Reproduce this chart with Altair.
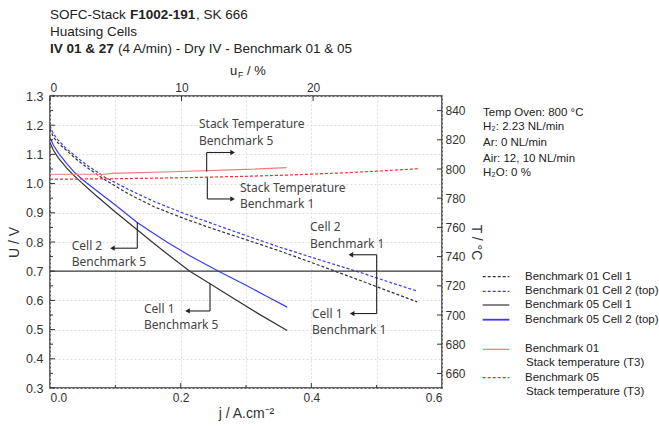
import altair as alt
import pandas as pd

# ---------------- data ----------------
# Benchmark 05 (solid), current density j in A/cm2, cell voltage U in V
j_b05_cell1 = [0, 0.005, 0.0127, 0.025, 0.036, 0.05, 0.069, 0.1, 0.133, 0.153, 0.18, 0.214, 0.245, 0.28, 0.32, 0.363]
u_b05_cell1 = [1.140, 1.115, 1.088, 1.055, 1.029, 1.000, 0.962, 0.903, 0.843, 0.806, 0.758, 0.700, 0.657, 0.608, 0.553, 0.497]
j_b05_cell2 = [0, 0.005, 0.0127, 0.025, 0.036, 0.05, 0.069, 0.1, 0.133, 0.153, 0.18, 0.214, 0.258, 0.3, 0.33, 0.363]
u_b05_cell2 = [1.158, 1.132, 1.105, 1.070, 1.042, 1.013, 0.980, 0.927, 0.868, 0.838, 0.798, 0.753, 0.700, 0.652, 0.616, 0.577]
# Benchmark 01 (dashed)
j_b01 = [0, 0.005, 0.012, 0.023, 0.043, 0.06, 0.084, 0.12, 0.16, 0.207, 0.25, 0.3, 0.352, 0.4, 0.44, 0.48, 0.52, 0.562]
u_b01_cell1 = [1.188, 1.160, 1.140, 1.118, 1.078, 1.050, 1.013, 0.965, 0.920, 0.879, 0.845, 0.808, 0.769, 0.730, 0.697, 0.664, 0.630, 0.595]
u_b01_cell2 = [1.198, 1.172, 1.150, 1.124, 1.086, 1.058, 1.022, 0.980, 0.938, 0.896, 0.862, 0.822, 0.782, 0.748, 0.720, 0.692, 0.662, 0.632]
# Stack temperatures (right axis, deg C)
j_temp_solid = [0, 0.085, 0.095, 0.2, 0.3, 0.362]
t_temp_solid = [796.4, 796.4, 797.0, 798.3, 799.7, 800.9]
j_temp_dashed = [0, 0.1, 0.2, 0.3, 0.375, 0.45, 0.5, 0.564]
t_temp_dashed = [793.0, 793.3, 794.0, 795.0, 796.0, 797.4, 798.5, 800.2]
# reference line and ticks
hline_u = [0.7]
u_ticks = [0.3, 0.4, 0.5, 0.6, 0.7, 0.8, 0.9, 1.0, 1.1, 1.2, 1.3]
u_minor = [0.35, 0.45, 0.55, 0.65, 0.75, 0.85, 0.95, 1.05, 1.15, 1.25]
j_ticks = [0.0, 0.1, 0.2, 0.3, 0.4, 0.5, 0.6]
j_major = [0.2, 0.4]
j_minor = [0.1, 0.3, 0.5]
t_ticks = [660, 680, 700, 720, 740, 760, 780, 800, 820, 840]
uf_ticks = [0, 10, 20]

FONT = "Liberation Sans"
NFONT = "Noto Sans"
TXT = "#333333"
W, H = 392, 292

xs = alt.Scale(domain=[0, 0.6], nice=False, zero=False)
ys = alt.Scale(domain=[0.3, 1.3], nice=False, zero=False)
ts = alt.Scale(domain=[650, 850], nice=False, zero=False)
us = alt.Scale(domain=[0, 29.8], nice=False, zero=False)

BLACK = "#333333"
BLUE = "#3a3af0"
RED_S = "#f07a7a"
RED_D = "#ff2a2a"
DASH = [3, 2]

one = pd.DataFrame({"a": [0]})


def X(field="j"):
    return alt.X(f"{field}:Q", scale=xs, axis=None)


def Y(field="U"):
    return alt.Y(f"{field}:Q", scale=ys, axis=None)


def uline(j, u, color, dash=None, axes=False):
    df = pd.DataFrame({"j": j, "U": u})
    kw = dict(color=color, strokeWidth=1.2, clip=True)
    if dash:
        kw["strokeDash"] = dash
    if axes:
        xa = alt.Axis(values=j_ticks, grid=True, gridColor="#d6d6d6", gridDash=[2, 2], gridWidth=0.8,
                      labelExpr="round(datum.value*10)%2==0 ? format(datum.value,'.1f') : ''",
                      domain=False, ticks=False, labelFont=FONT, labelFontSize=12, labelColor=TXT,
                      labelPadding=4, title="j / A.cm\u207b\u00b2", titleFont=FONT, titleFontSize=14,
                      titleFontWeight="normal", titleColor=TXT, titlePadding=3)
        ya = alt.Axis(values=u_ticks, format=".1f", grid=True, gridColor="#d6d6d6", gridDash=[2, 2],
                      gridWidth=0.8, domain=False, ticks=False, labelFont=FONT, labelFontSize=12.5,
                      labelColor=TXT, labelPadding=7, title="U / V", titleFont=FONT, titleFontSize=14,
                      titleFontWeight="normal", titleColor=TXT, titlePadding=4)
        return alt.Chart(df).mark_line(**kw).encode(
            x=alt.X("j:Q", scale=xs, axis=xa), y=alt.Y("U:Q", scale=ys, axis=ya))
    return alt.Chart(df).mark_line(**kw).encode(x=X(), y=Y())


def tline(j, t, color, dash=None, axes=False):
    df = pd.DataFrame({"j": j, "T": t})
    kw = dict(color=color, strokeWidth=1.2, clip=True)
    if dash:
        kw["strokeDash"] = dash
    ya = None
    if axes:
        ya = alt.Axis(orient="right", values=t_ticks, grid=False, domain=False, ticks=False,
                      labelFont=FONT, labelFontSize=12, labelColor=TXT, labelPadding=3,
                      title="T / \u00b0C", titleFont=FONT, titleFontSize=14, titleFontWeight="normal",
                      titleColor=TXT, titlePadding=3)
    return alt.Chart(df).mark_line(**kw).encode(x=X(), y=alt.Y("T:Q", scale=ts, axis=ya))


def note(text, j, u):
    return alt.Chart(pd.DataFrame({"j": [j], "U": [u]})).mark_text(
        text=text, font=NFONT, fontSize=12, color="#444444", align="left", baseline="middle"
    ).encode(x=X(), y=Y())


def seg(j1, j2, u1, u2):
    df = pd.DataFrame({"j": [j1], "j2": [j2], "U": [u1], "U2": [u2]})
    return alt.Chart(df).mark_rule(color="#222222", strokeWidth=1.1).encode(
        x=X(), x2="j2:Q", y=Y(), y2="U2:Q")


def head(j, u, shape):
    return alt.Chart(pd.DataFrame({"j": [j], "U": [u]})).mark_point(
        shape=shape, filled=True, size=28, color="#222222", opacity=1).encode(x=X(), y=Y())


def ptext(text, x, y, size=13.5, bold=False, color="#222222", font=FONT):
    return alt.Chart(one).mark_text(text=text, font=font, fontSize=size,
                                    fontWeight="bold" if bold else "normal", color=color,
                                    align="left", baseline="middle").encode(
        x=alt.value(x), y=alt.value(y))


def prule(x1, x2, y, color, dash=None, width=1.2):
    kw = dict(color=color, strokeWidth=width)
    if dash:
        kw["strokeDash"] = dash
    return alt.Chart(one).mark_rule(**kw).encode(x=alt.value(x1), x2=alt.value(x2), y=alt.value(y))


# ---------------- layers ----------------
hline = alt.Chart(pd.DataFrame({"U": hline_u})).mark_rule(color="#3a3a3a", strokeWidth=1.2).encode(y=Y())

left_major = alt.Chart(pd.DataFrame({"U": u_ticks})).mark_rule(color=BLACK, strokeWidth=1).encode(
    y=Y(), x=alt.value(0), x2=alt.value(5))
left_minor = alt.Chart(pd.DataFrame({"U": u_minor})).mark_rule(color=BLACK, strokeWidth=1).encode(
    y=Y(), x=alt.value(0), x2=alt.value(3))
bot_major = alt.Chart(pd.DataFrame({"j": j_major})).mark_rule(color=BLACK, strokeWidth=1).encode(
    x=X(), y=alt.value(H), y2=alt.value(H - 5))
bot_minor = alt.Chart(pd.DataFrame({"j": j_minor})).mark_rule(color=BLACK, strokeWidth=1).encode(
    x=X(), y=alt.value(H), y2=alt.value(H - 3))
right_ticks = alt.Chart(pd.DataFrame({"T": t_ticks})).mark_rule(color=BLACK, strokeWidth=1).encode(
    y=alt.Y("T:Q", scale=ts, axis=None), x=alt.value(W), x2=alt.value(W - 5))
top = alt.Chart(pd.DataFrame({"uF": uf_ticks})).mark_rule(color=BLACK, strokeWidth=1).encode(
    x=alt.X("uF:Q", scale=us,
            axis=alt.Axis(orient="top", values=uf_ticks, grid=False, domain=False, ticks=False,
                          labelFont=FONT, labelFontSize=12, labelColor=TXT, labelPadding=2, title=None)),
    y=alt.value(0), y2=alt.value(5))

annotations = [
    # Stack Temperature Benchmark 5
    note("Stack Temperature", 0.228, 1.203), note("Benchmark 5", 0.228, 1.146),
    seg(0.2398, 0.2398, 1.1065, 1.0416), seg(0.2398, 0.279, 1.1065, 1.1065), head(0.2795, 1.1065, "triangle-right"),
    # Stack Temperature Benchmark 1
    note("Stack Temperature", 0.2908, 0.9836), note("Benchmark 1", 0.2908, 0.9304),
    seg(0.2408, 0.2408, 1.0212, 0.9474), seg(0.2408, 0.279, 0.9474, 0.9474), head(0.2795, 0.9474, "triangle-right"),
    # Cell 2 / Cell 1 Benchmark 1
    note("Cell 2", 0.398, 0.8505), note("Benchmark 1", 0.398, 0.7939),
    note("Cell 1", 0.401, 0.555), note("Benchmark 1", 0.401, 0.5003),
    seg(0.5, 0.5, 0.7563, 0.555), seg(0.461, 0.5, 0.7563, 0.7563), seg(0.463, 0.5, 0.555, 0.555),
    head(0.4605, 0.7563, "triangle-left"), head(0.4625, 0.555, "triangle-left"),
    # Cell 2 Benchmark 5
    note("Cell 2", 0.0332, 0.7857), note("Benchmark 5", 0.0332, 0.731),
    seg(0.1336, 0.1336, 0.8676, 0.7788), seg(0.096, 0.1336, 0.7788, 0.7788), head(0.0955, 0.7788, "triangle-left"),
    # Cell 1 Benchmark 5
    note("Cell 1", 0.1439, 0.572), note("Benchmark 5", 0.1439, 0.5174),
    seg(0.2449, 0.2449, 0.6573, 0.5638), seg(0.211, 0.2449, 0.5638, 0.5638), head(0.2105, 0.5638, "triangle-left"),
]

# title, info and legend decorations (pixel positions relative to the plot area)
decor = [
    ptext("SOFC-Stack", 0, -81), ptext("F1002-191", 80, -81, bold=True), ptext(", SK 666", 146, -81),
    ptext("Huatsing Cells", 0, -64),
    ptext("IV 01 & 27", 0, -47, bold=True), ptext("(4 A/min) - Dry IV - Benchmark 01 & 05", 68, -47),
    ptext("u", 180, -25, size=13), ptext("F", 188, -21, size=8.5), ptext("/ %", 197, -25, size=13),
    ptext("Temp Oven: 800 \u00b0C", 433, 16.7, size=11.5),
    ptext("H\u2082: 2.23 NL/min", 433, 31, size=11.5),
    ptext("Ar: 0 NL/min", 433, 47.3, size=11.5),
    ptext("Air: 12, 10 NL/min", 433, 62.7, size=11.5),
    ptext("H\u2082O: 0 %", 433, 76.7, size=11.5),
    prule(432.7, 459.3, 180.7, BLACK, DASH), ptext("Benchmark 01 Cell 1", 475, 180.7, size=11.5),
    prule(432.7, 459.3, 195.3, BLUE, DASH), ptext("Benchmark 01 Cell 2 (top)", 475, 195.3, size=11.5),
    prule(432.7, 459.3, 209.0, BLACK), ptext("Benchmark 05 Cell 1", 475, 209.0, size=11.5),
    prule(432.7, 459.3, 223.7, BLUE, width=1.8), ptext("Benchmark 05 Cell 2 (top)", 475, 223.7, size=11.5),
    prule(432.7, 459.3, 253.3, RED_S), ptext("Benchmark 01", 475, 253.3, size=11.5),
    ptext("Stack temperature (T3)", 476, 267.3, size=11.5),
    prule(432.7, 459.3, 281.7, RED_D, DASH), ptext("Benchmark 05", 475, 281.7, size=11.5),
    ptext("Stack temperature (T3)", 476, 295.7, size=11.5),
]

chart = alt.layer(
    uline(j_b05_cell1, u_b05_cell1, BLACK, axes=True),
    uline(j_b05_cell2, u_b05_cell2, BLUE),
    uline(j_b01, u_b01_cell1, BLACK, DASH),
    uline(j_b01, u_b01_cell2, BLUE, DASH),
    tline(j_temp_solid, t_temp_solid, RED_S, axes=True),
    tline(j_temp_dashed, t_temp_dashed, RED_D, DASH),
    hline, left_major, left_minor, bot_major, bot_minor, right_ticks, top,
    *annotations, *decor,
).resolve_scale(x="independent", y="independent").properties(
    width=W, height=H,
    autosize=alt.AutoSizeParams(type="none"),
    padding={"left": 50, "top": 96, "right": 217, "bottom": 40},
    background="white",
).configure_view(stroke="#333333", strokeWidth=1.5)

chart.save("out.html", embed_options={"renderer": "svg", "actions": False})
